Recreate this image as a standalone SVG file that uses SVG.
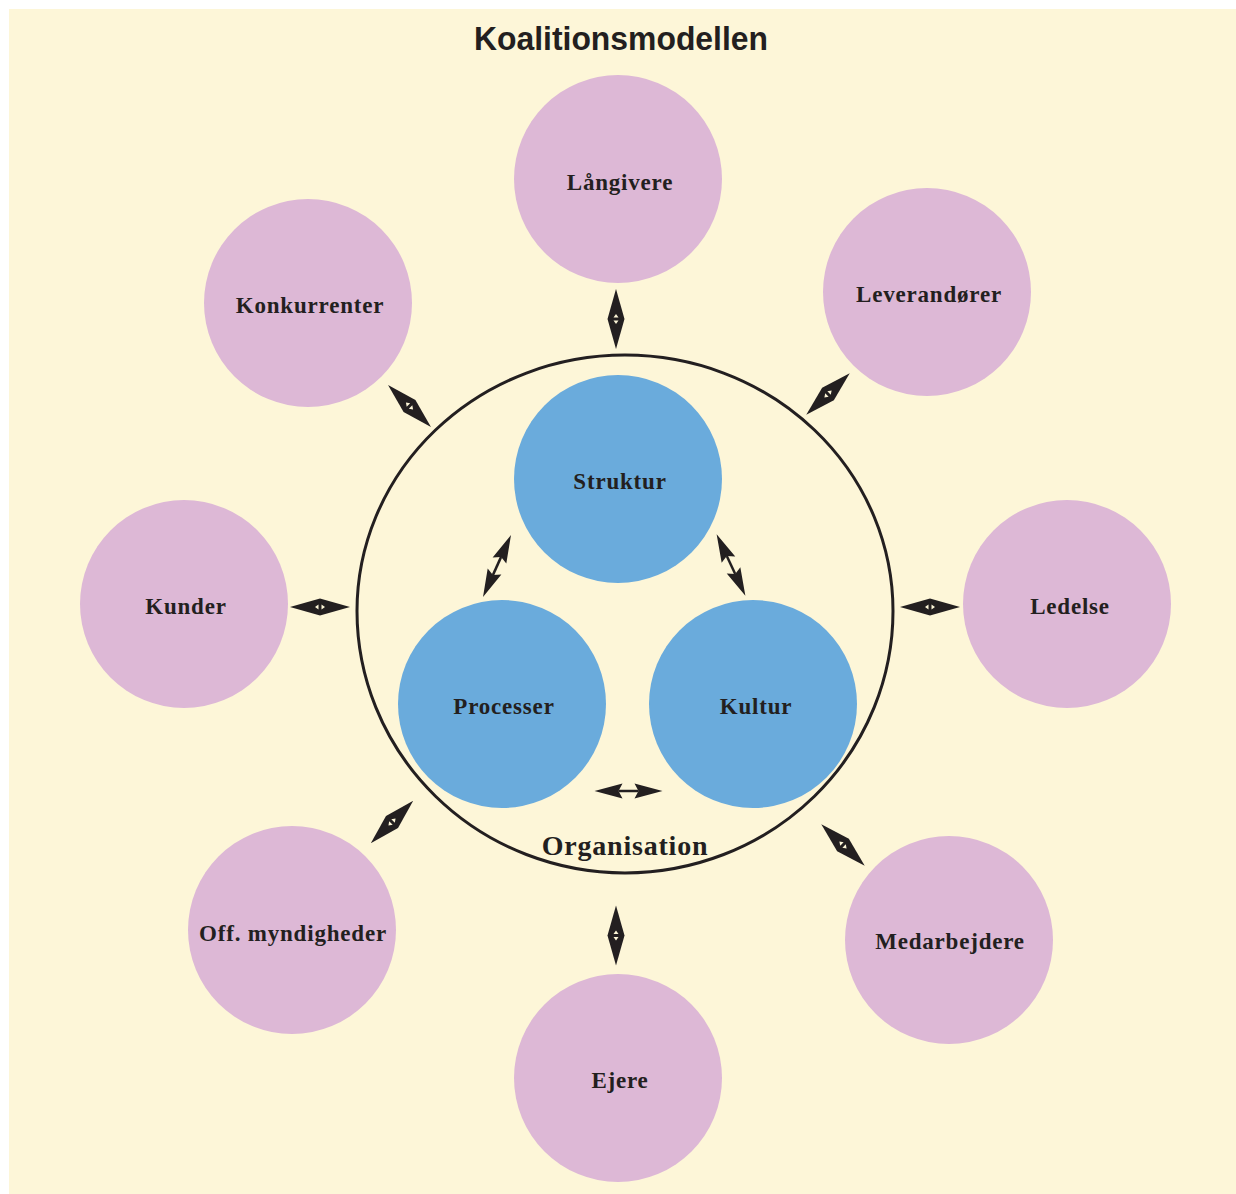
<svg xmlns="http://www.w3.org/2000/svg" width="1236" height="1194" viewBox="0 0 1236 1194">
  <style>
    .bg { fill: #fdf6d8; }
    .party { fill: #ddb8d6; }
    .core { fill: #6aabdc; }
    .org { fill: none; stroke: #231f20; stroke-width: 3; }
    .lbl { font-family: "Liberation Serif", "Times New Roman", serif; font-weight: bold; font-size: 23px; letter-spacing: 0.8px; fill: #231f20; text-anchor: middle; }
    .orglbl { font-family: "Liberation Serif", "Times New Roman", serif; font-weight: bold; font-size: 28px; letter-spacing: 0.8px; fill: #231f20; text-anchor: middle; }
    .title { font-family: "Liberation Sans", Arial, sans-serif; font-weight: bold; font-size: 34px; fill: #231f20; text-anchor: middle; }
  </style>
  <defs>
    <!-- two-way link between the organisation and a stakeholder -->
    <g id="diamond">
      <polygon points="-30,0 0,-8.5 30,0 0,8.5" fill="#231f20"/>
      <polygon points="-1.5,-2.5 -1.5,2.5 -5,0" fill="#fdf6d8"/>
      <polygon points="1.5,-2.5 1.5,2.5 5,0" fill="#fdf6d8"/>
    </g>
    <!-- two-way arrow between the core elements -->
    <g id="dbl">
      <line x1="-10" y1="0" x2="10" y2="0" stroke="#231f20" stroke-width="2.5"/>
      <polygon points="-34,0 -6,-7.5 -10,0 -6,7.5" fill="#231f20"/>
      <polygon points="34,0 6,-7.5 10,0 6,7.5" fill="#231f20"/>
    </g>
  </defs>

  <rect class="bg" x="9" y="9" width="1227" height="1185"/>
  <text class="title" x="621" y="50" textLength="294" lengthAdjust="spacingAndGlyphs">Koalitionsmodellen</text>

  <g id="organisation">
    <path class="org" d="M357,611 A268,256 0 0 1 893,611 A268,262 0 0 1 357,611 Z"/>
    <text class="orglbl" x="625" y="855">Organisation</text>
  </g>

  <g id="langivere"><circle class="party" cx="618" cy="179" r="104"/><text class="lbl" x="620" y="190">Långivere</text></g>
  <g id="leverandorer"><circle class="party" cx="927" cy="292" r="104"/><text class="lbl" x="929" y="302">Leverandører</text></g>
  <g id="ledelse"><circle class="party" cx="1067" cy="604" r="104"/><text class="lbl" x="1070" y="614">Ledelse</text></g>
  <g id="medarbejdere"><circle class="party" cx="949" cy="940" r="104"/><text class="lbl" x="950" y="949">Medarbejdere</text></g>
  <g id="ejere"><circle class="party" cx="618" cy="1078" r="104"/><text class="lbl" x="620" y="1088">Ejere</text></g>
  <g id="off-myndigheder"><circle class="party" cx="292" cy="930" r="104"/><text class="lbl" x="293" y="941">Off. myndigheder</text></g>
  <g id="kunder"><circle class="party" cx="184" cy="604" r="104"/><text class="lbl" x="186" y="614">Kunder</text></g>
  <g id="konkurrenter"><circle class="party" cx="308" cy="303" r="104"/><text class="lbl" x="310" y="313">Konkurrenter</text></g>

  <g id="struktur"><circle class="core" cx="618" cy="479" r="104"/><text class="lbl" x="620" y="489">Struktur</text></g>
  <g id="processer"><circle class="core" cx="502" cy="704" r="104"/><text class="lbl" x="504" y="714">Processer</text></g>
  <g id="kultur"><circle class="core" cx="753" cy="704" r="104"/><text class="lbl" x="756" y="714">Kultur</text></g>

  <g id="connectors">
    <use href="#diamond" transform="translate(616,319) rotate(90)"/>
    <use href="#diamond" transform="translate(409.5,406) rotate(44.3)"/>
    <use href="#diamond" transform="translate(320,607)"/>
    <use href="#diamond" transform="translate(828,394) rotate(-43.6)"/>
    <use href="#diamond" transform="translate(930,607)"/>
    <use href="#diamond" transform="translate(843,845) rotate(43.6)"/>
    <use href="#diamond" transform="translate(392,822) rotate(-45)"/>
    <use href="#diamond" transform="translate(616,935.5) rotate(90)"/>
    <use href="#dbl" transform="translate(497,566) rotate(114.3)"/>
    <use href="#dbl" transform="translate(731,565) rotate(65)"/>
    <use href="#dbl" transform="translate(628.5,791)"/>
  </g>
</svg>
